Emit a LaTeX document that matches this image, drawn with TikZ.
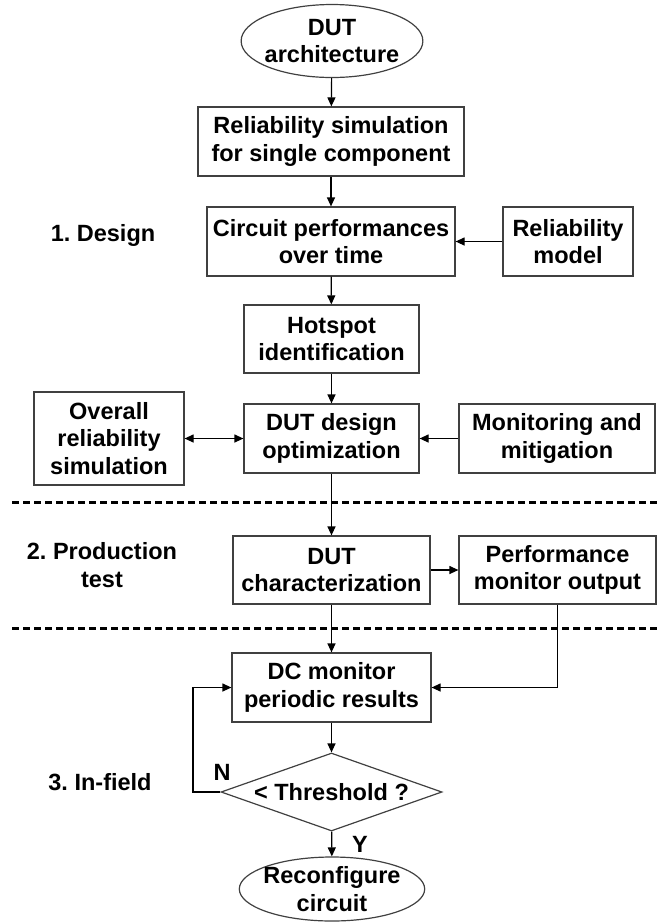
\documentclass[tikz,border=0pt]{standalone}
\usepackage{fontspec}
\setmainfont{Liberation Sans}
\usetikzlibrary{shapes.geometric,arrows.meta}
\frenchspacing

\begin{document}
\begin{tikzpicture}[x=1pt,y=-1pt,
  txt/.style={align=center,font=\bfseries\fontsize{23.5}{27.5}\selectfont},
  box/.style={txt,draw=black!75,line width=1.2pt,rectangle,inner sep=0pt},
  oval/.style={box,ellipse,inner sep=-3pt},
  test/.style={box,diamond,aspect=2.83},
  >={Triangle[length=9pt,width=8pt]},
  arr/.style={->,line width=1.2pt},
  sep/.style={line width=3pt,dash pattern=on 7pt off 4pt}]
\useasboundingbox (0,0) rectangle (657,922);
\node[oval,minimum width=175,minimum height=73] (arch) at (332,41) {DUT\\architecture};
\node[box,minimum width=266,minimum height=69] (relsim) at (331,141.5) {Reliability simulation\\for single component};
\node[box,minimum width=248,minimum height=69] (perf) at (331,241.5) {Circuit performances\\over time};
\node[box,minimum width=130,minimum height=69] (relmod) at (568,241.5) {Reliability\\model};
\node[box,minimum width=175,minimum height=68] (hot) at (331.5,339) {Hotspot\\identification};
\node[box,minimum width=175,minimum height=69] (design) at (331.5,438.5) {DUT design\\optimization};
\node[box,minimum width=150,minimum height=93] (overall) at (109,438.5) {Overall\\reliability\\simulation};
\node[box,minimum width=196,minimum height=69] (monit) at (557,438.5) {Monitoring and\\mitigation};
\node[box,minimum width=197,minimum height=68] (char) at (331.5,570) {DUT\\characterization};
\node[box,minimum width=197,minimum height=68] (perfout) at (557.5,570) {Performance\\monitor output};
\node[box,minimum width=199,minimum height=69] (dc) at (331.5,687.5) {DC monitor\\periodic results};
\node[test,minimum width=221,minimum height=78] (thr) at (331.5,792) {< Threshold ?};
\node[oval,minimum width=170,minimum height=64] (recon) at (332,889) {Reconfigure\\circuit};
\node[txt] (design lbl) at (103,235) {1. Design};
\node[txt] (prod lbl) at (102,565) {2. Production\\test};
\node[txt] (field lbl) at (100,782) {3. In-field};
\node[txt] (no) at (222,772) {N};
\node[txt] (yes) at (360,844) {Y};
\draw[sep] (12,502)--(657,502);
\draw[sep] (12,628)--(657,628);
\coordinate (back) at (193,792);
\draw[arr] (arch)--(relsim);
\draw[arr] (relsim)--(perf);
\draw[arr] (relmod)--(perf);
\draw[arr] (perf)--(hot);
\draw[arr] (hot)--(design);
\draw[arr,<->] (overall)--(design);
\draw[arr] (monit)--(design);
\draw[arr] (design)--(char);
\draw[arr] (char)--(perfout);
\draw[arr] (char)--(dc);
\draw[arr] (perfout.south) |- (dc);
\draw[arr] (dc)--(thr);
\draw[arr] (thr)--(recon);
\draw[arr] (thr.west)--(back) |- (dc);
\end{tikzpicture}
\end{document}
